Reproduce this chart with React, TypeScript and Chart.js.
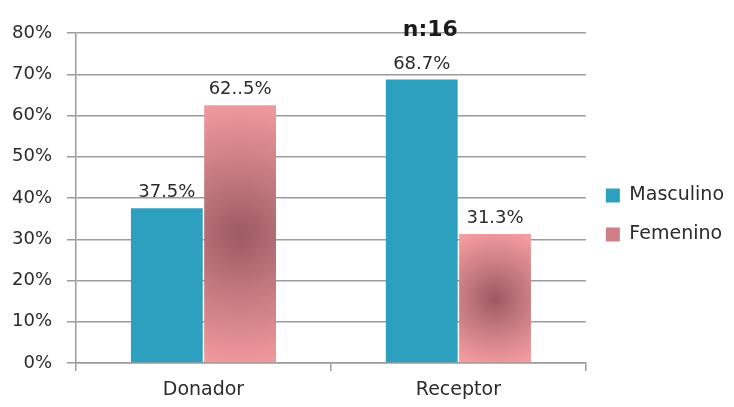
import React, { useEffect, useRef } from "react";
import { Chart, registerables } from "chart.js";

Chart.register(...registerables);

const categories = ["Donador", "Receptor"];
const seriesNames = ["Masculino", "Femenino"];
const masculino = [37.5, 68.7];
const femenino = [62.5, 31.3];
const masculinoLabels = ["37.5%", "68.7%"];
const femeninoLabels = ["62..5%", "31.3%"];
const yTicks = [0, 10, 20, 30, 40, 50, 60, 70, 80];
const titleText = "n:16";

const FONT = "'DejaVu Sans', Verdana, sans-serif";
const BLUE = "#2ca0be";
const PINK_OUT = "#f39b9f";
const PINK_MID = "#cf8087";
const PINK_IN = "#9c5a61";
const GRID = "#9c9c9c";
const TEXT = "#2b2b2b";
const CAT_PCT = 0.575;

const valueLabelsPlugin = {
  id: "valueLabels",
  afterDatasetsDraw(chart: any) {
    const ctx = chart.ctx;
    const sets = [masculinoLabels, femeninoLabels];
    ctx.save();
    ctx.font = `18px ${FONT}`;
    ctx.fillStyle = TEXT;
    ctx.textAlign = "center";
    ctx.textBaseline = "alphabetic";
    chart.data.datasets.forEach((_d: any, di: number) => {
      const meta = chart.getDatasetMeta(di);
      meta.data.forEach((el: any, i: number) => {
        ctx.fillText(sets[di][i], el.x, el.y - 11);
      });
    });
    ctx.restore();
  },
};

const titlePlugin = {
  id: "nTitle",
  afterDraw(chart: any) {
    const { ctx, chartArea } = chart;
    ctx.save();
    ctx.font = `bold 22px ${FONT}`;
    ctx.fillStyle = "#1a1a1a";
    ctx.textAlign = "center";
    ctx.textBaseline = "alphabetic";
    const x = chartArea.left + (chartArea.right - chartArea.left) * 0.695;
    ctx.fillText(titleText, x, chartArea.top + 3);
    ctx.restore();
  },
};

function femeninoFill(c: any) {
  const chart = c.chart;
  const { chartArea, scales } = chart;
  if (!chartArea || !scales || !scales.x || !scales.y || c.type !== "data") return PINK_MID;
  const xs = scales.x;
  const ys = scales.y;
  const catW = (xs.right - xs.left) / categories.length;
  const barW = (catW * CAT_PCT) / 2;
  const cx = xs.getPixelForValue(c.dataIndex) + barW / 2;
  const top = ys.getPixelForValue(femenino[c.dataIndex]);
  const base = ys.getPixelForValue(0);
  const cy = (top + base) / 2;
  const r = (Math.max(barW, base - top) / 2) * 1.05;
  const g = chart.ctx.createRadialGradient(cx, cy, 0, cx, cy, r);
  g.addColorStop(0, PINK_IN);
  g.addColorStop(0.45, "#c47a80");
  g.addColorStop(1, PINK_OUT);
  return g;
}

export default function App() {
  const ref = useRef<HTMLCanvasElement>(null);
  useEffect(() => {
    document.body.style.margin = "0";
    const canvas = ref.current;
    if (!canvas) return;
    const chart = new Chart(canvas, {
      type: "bar",
      data: {
        labels: categories,
        datasets: [
          {
            label: seriesNames[0],
            data: masculino,
            backgroundColor: BLUE,
            borderWidth: 0,
            categoryPercentage: CAT_PCT,
            barPercentage: 0.98,
          },
          {
            label: seriesNames[1],
            data: femenino,
            backgroundColor: femeninoFill as any,
            borderWidth: 0,
            categoryPercentage: CAT_PCT,
            barPercentage: 0.98,
          },
        ],
      },
      options: {
        animation: false,
        responsive: false,
        maintainAspectRatio: false,
        layout: { padding: { top: 33, left: 0, right: 0, bottom: 0 } },
        plugins: {
          title: { display: false },
          tooltip: { enabled: false },
          legend: {
            position: "right",
            align: "center",
            fullSize: false,
            title: { display: true, text: "", font: { size: 1, lineHeight: 1 }, padding: { top: 33, bottom: 0 } },
            labels: {
              boxWidth: 14,
              boxHeight: 14,
              padding: 20,
              color: TEXT,
              font: { family: FONT, size: 19 },
              generateLabels: (ch: any) => {
                const items = (Chart.defaults.plugins.legend.labels as any).generateLabels(ch);
                items.forEach((it: any, i: number) => {
                  it.fillStyle = i === 0 ? BLUE : PINK_MID;
                  it.strokeStyle = "rgba(0,0,0,0)";
                  it.lineWidth = 0;
                });
                return items;
              },
            },
          },
        },
        scales: {
          x: {
            offset: true,
            grid: {
              offset: true,
              drawOnChartArea: false,
              drawTicks: true,
              tickLength: 8,
              color: GRID,
              lineWidth: 1.5,
            },
            border: { display: true, color: GRID, width: 1.5 },
            ticks: {
              color: TEXT,
              font: { family: FONT, size: 19 },
              padding: 8,
            },
            afterFit: (s: any) => {
              s.height = 44;
            },
          },
          y: {
            min: 0,
            max: 80,
            afterBuildTicks: (s: any) => {
              s.ticks = yTicks.map((v) => ({ value: v }));
            },
            grid: {
              color: GRID,
              lineWidth: 1.5,
              drawTicks: true,
              tickLength: 9,
            },
            border: { display: true, color: GRID, width: 1.5 },
            ticks: {
              color: TEXT,
              font: { family: FONT, size: 18 },
              padding: 15,
              callback: (v: any) => `${v}%`,
            },
            afterFit: (s: any) => {
              s.width = 76;
            },
          },
        },
      },
      plugins: [valueLabelsPlugin, titlePlugin],
    });
    return () => chart.destroy();
  }, []);
  return (
    <div style={{ width: 734, height: 407, background: "#fff" }}>
      <canvas ref={ref} width={734} height={407} style={{ display: "block" }} />
    </div>
  );
}
